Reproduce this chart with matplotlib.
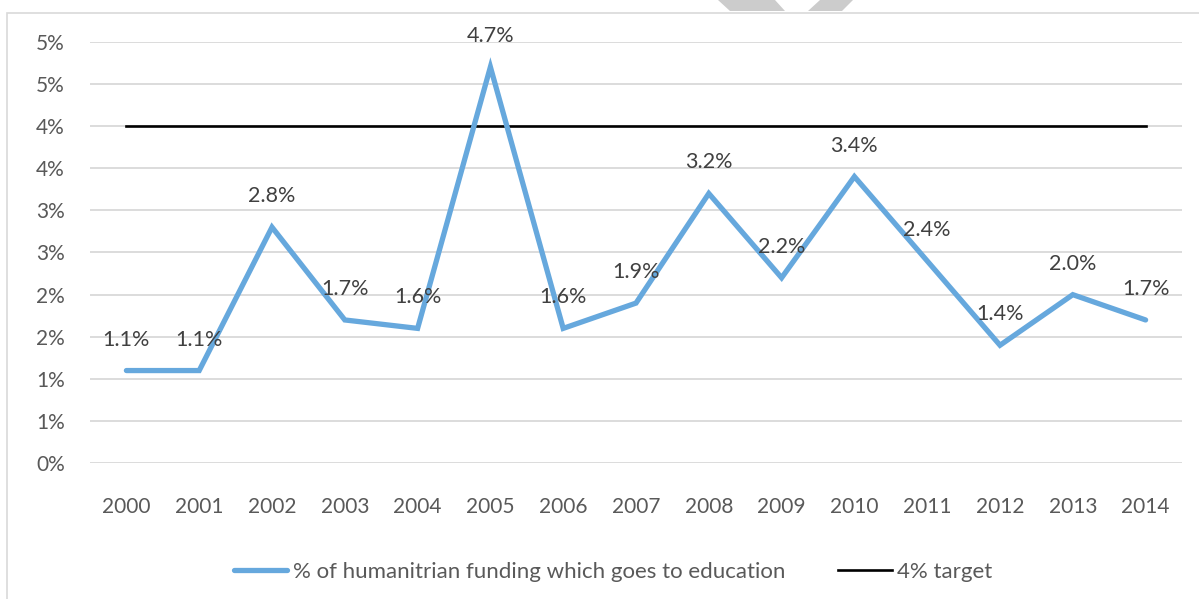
import math
import matplotlib
matplotlib.use("Agg")
import matplotlib.pyplot as plt
from matplotlib.patches import Polygon, Rectangle
from matplotlib.ticker import FuncFormatter, MultipleLocator

# Data
years = [str(y) for y in range(2000, 2015)]
education_share = [1.1, 1.1, 2.8, 1.7, 1.6, 4.7, 1.6, 1.9, 3.2, 2.2, 3.4, 2.4, 1.4, 2.0, 1.7]
target_value = 4.0
series_label = "% of humanitrian funding which goes to education"
target_label = "4% target"

W, H = 1199, 599
plt.rcParams["font.family"] = ["Lato", "DejaVu Sans"]
TEXT = "#595959"
BLUE = "#66a8dd"
GRID = "#d9d9d9"

fig = plt.figure(figsize=(W / 100, H / 100), dpi=100)
ax = fig.add_axes([90 / W, 1 - 463.3 / H, (1182 - 90) / W, (463.3 - 41.7) / H])

x = list(range(len(years)))
ax.plot(x, education_share, color=BLUE, lw=3.8, solid_joinstyle="miter",
        solid_capstyle="round", label=series_label, zorder=3)
ax.plot(x, [target_value] * len(x), color="black", lw=1.9, label=target_label, zorder=2)

for xi, v in zip(x, education_share):
    ax.annotate(f"{v:.1f}%", (xi, v), xytext=(0, 31), textcoords="offset pixels",
                ha="center", va="center", fontsize=15.5, color="#404040", zorder=4)

ax.set_xlim(-0.5, len(years) - 0.5)
ax.set_ylim(0, 5.0)
ax.set_xticks(x)
ax.set_xticklabels(years)
ax.yaxis.set_major_locator(MultipleLocator(0.5))
# whole-percent labels, halves rounded up
ax.yaxis.set_major_formatter(FuncFormatter(lambda v, p: f"{math.floor(v + 0.5)}%"))
ax.grid(axis="y", color=GRID, lw=1.3)
ax.set_axisbelow(True)
for s in ax.spines.values():
    s.set_visible(False)
ax.tick_params(axis="both", length=0, labelsize=15, colors=TEXT)
ax.tick_params(axis="y", pad=18)
ax.tick_params(axis="x", pad=24)

fig.legend(loc="center", bbox_to_anchor=(613 / W, 1 - 572 / H), ncol=2, frameon=False,
           fontsize=16, labelcolor=TEXT, handlelength=2.4, handletextpad=0.25,
           columnspacing=2.4)

# Chart frame and background mark
fig.patches.append(Rectangle((7 / W, -0.1), 1.2, 1 - 12.5 / H + 0.1, transform=fig.transFigure,
                             fill=False, edgecolor="#d9d9d9", lw=1.2))
def px(pts):
    return [(a / W, 1 - b / H) for a, b in pts]
fig.patches.append(Polygon(px([(718, 0), (775, 0), (785, 11), (730, 11)]),
                           transform=fig.transFigure, color="#cccccc", lw=0))
fig.patches.append(Polygon(px([(820, 0), (853, 0), (842, 11), (808, 11)]),
                           transform=fig.transFigure, color="#cccccc", lw=0))

fig.savefig("out.png", dpi=100)
